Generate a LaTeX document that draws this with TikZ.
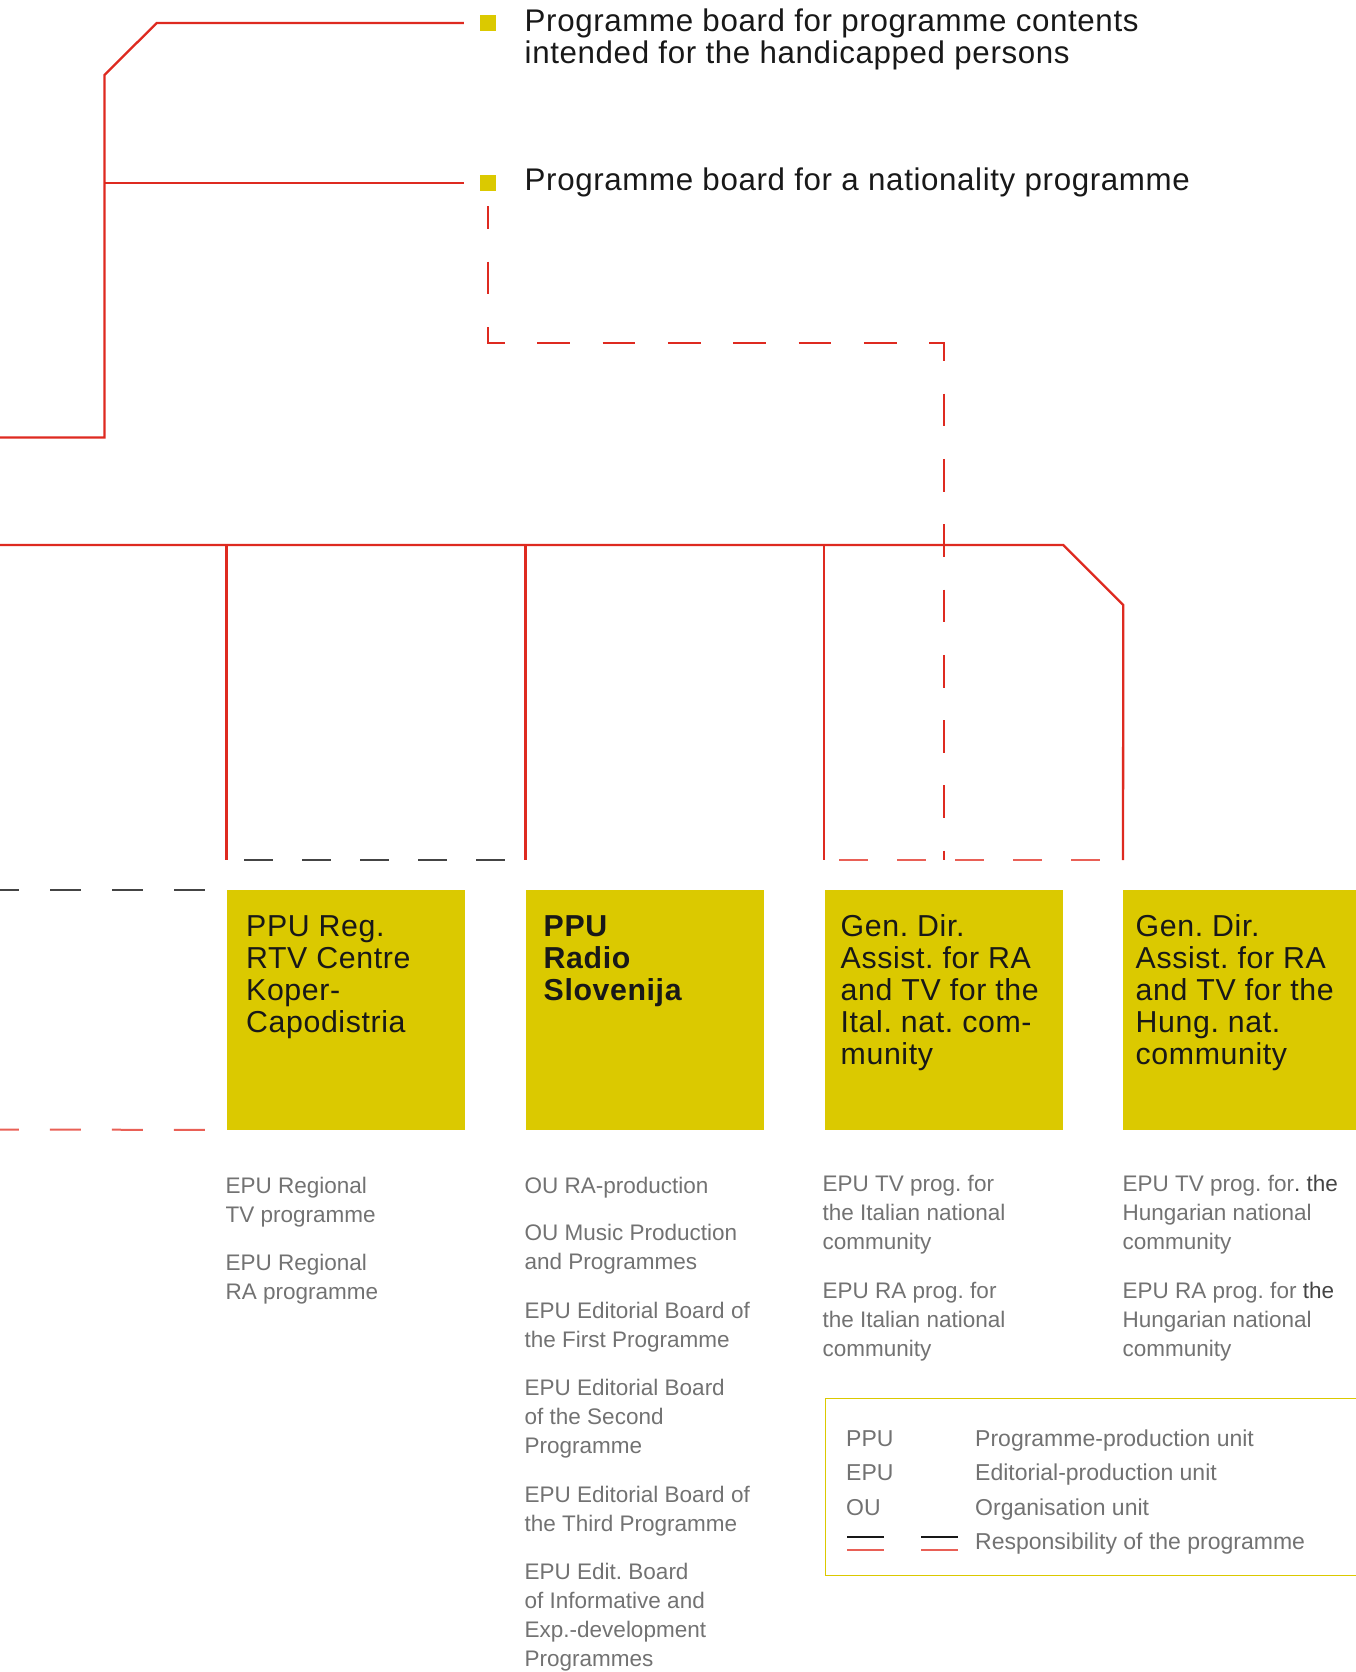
\documentclass[tikz,border=0pt]{standalone}
\usepackage{fontspec}
\setmainfont{Liberation Sans}
\newfontfamily\trackfont[LetterSpace=2.0]{Liberation Sans}
\frenchspacing

\definecolor{rtvred}{RGB}{222,42,32}
\definecolor{rtvsalmon}{RGB}{233,96,86}
\definecolor{rtvyellow}{RGB}{219,201,0}
\definecolor{rtvgrey}{RGB}{114,114,114}
\definecolor{rtvdark}{RGB}{68,68,68}
\definecolor{rtvink}{RGB}{24,24,24}

\tikzset{
  redline/.style={draw=rtvred, line width=2.3pt},
  respline/.style={draw=rtvred, line width=1.6pt, dash pattern=on 32.7pt off 32.6pt},
  reddash/.style={draw=rtvsalmon, line width=2pt, dash pattern=on 29pt off 29pt},
  greydash/.style={draw=rtvdark, line width=2pt, dash pattern=on 29pt off 29pt},
  unitbox/.style={fill=rtvyellow, anchor=north west, inner sep=0pt, minimum width=238.6pt, minimum height=239.5pt},
  unitname/.style={anchor=north west, inner sep=0pt, align=left, text=rtvink, font=\trackfont\fontsize{30.3}{32}\selectfont},
  unitlist/.style={anchor=north west, inner sep=0pt, align=left, text=rtvgrey, font=\fontsize{22.5}{29}\selectfont},
  boardmark/.style={fill=rtvyellow, inner sep=0pt, minimum width=16pt, minimum height=16pt},
  boardname/.style={anchor=north west, inner sep=0pt, align=left, text=rtvink, font=\trackfont\fontsize{31.3}{31.8}\selectfont},
  legendframe/.style={draw=rtvyellow, line width=1.4pt, anchor=north west, inner sep=0pt, minimum width=560pt, minimum height=177pt},
  legendtext/.style={anchor=base west, inner sep=0pt, text=rtvgrey, font=\fontsize{23}{23}\selectfont},
}

\begin{document}
\begin{tikzpicture}[x=1pt,y=-1pt]
    \useasboundingbox (0,0) rectangle (1355,1672);

    \node[boardmark] (markH) at (488,23) {};
    \node[boardmark] (markN) at (488,183) {};
    \node[boardname] (boardH) at (524.5,8.9) {Programme board for programme contents\\intended for the handicapped persons};
    \node[boardname] (boardN) at (524.5,167.2) {Programme board for a nationality programme};

    \node[unitbox] (koper) at (226.4,890) {};
    \node[unitbox] (radio) at (525.5,890) {};
    \node[unitbox] (ital) at (824.3,890) {};
    \node[unitbox] (hung) at (1123,890) {};

    \node[unitname] (kopername) at (246,915) {PPU Reg.\\RTV Centre\\Koper-\\Capodistria};
    \node[unitname, font=\trackfont\bfseries\fontsize{30.3}{32}\selectfont] (radioname) at (543.5,915) {PPU\\Radio\\Slovenija};
    \node[unitname] (italname) at (840.5,914) {Gen. Dir.\\Assist. for RA\\and TV for the\\Ital. nat. com-\\munity};
    \node[unitname] (hungname) at (1135.5,914) {Gen. Dir.\\Assist. for RA\\and TV for the\\Hung. nat.\\community};

    \node[unitlist] (koperlist) at (225.5,1176.6) {EPU Regional\\TV programme\\[19.5pt]EPU Regional\\RA programme};
    \node[unitlist] (radiolist) at (524.5,1176.6) {OU RA-production\\[18.4pt]OU Music Production\\and Programmes\\[19.5pt]EPU Editorial Board of\\the First Programme\\[19.5pt]EPU Editorial Board\\of the Second\\Programme\\[19.5pt]EPU Editorial Board of\\the Third Programme\\[19.5pt]EPU Edit. Board\\of Informative and\\Exp.-development\\Programmes};
    \node[unitlist] (itallist) at (822.5,1175.3) {EPU TV prog. for\\the Italian national\\community\\[19.5pt]EPU RA prog. for\\the Italian national\\community};
    \node[unitlist] (hunglist) at (1122.5,1175.3) {EPU TV prog. for{\color{rtvdark}. the}\\Hungarian national\\community\\[19.5pt]EPU RA prog. for {\color{rtvdark}the}\\Hungarian national\\community};

    \node[legendframe] (legend) at (824.8,1398) {};
    \node[legendtext] (ppu) at (846,1446) {PPU};
    \node[legendtext] (ppudesc) at (975,1446) {Programme-production unit};
    \node[legendtext] (epu) at (846,1480.7) {EPU};
    \node[legendtext] (epudesc) at (975,1480.7) {Editorial-production unit};
    \node[legendtext] (ou) at (846,1515.6) {OU};
    \node[legendtext] (oudesc) at (975,1515.6) {Organisation unit};
    \node[legendtext] (respdesc) at (975,1549.5) {Responsibility of the programme};
    \draw[rtvink, line width=1.8pt] (847,1536.6) -- (884,1536.6) (921,1536.6) -- (958,1536.6);
    \draw[rtvsalmon, line width=2pt] (847,1549.5) -- (884,1549.5) (921,1549.5) -- (958,1549.5);

    \coordinate (feedL) at (0,437.5);
    \coordinate (spine) at (104.5,75);
    \coordinate (busL) at (0,545);
    \coordinate (leftT) at (0,890);
    \coordinate (leftB) at (0,1129.5);

    \draw[respline, dash phase=9.6pt] ([yshift=-23pt]markN.center) -- ([yshift=-160pt]markN.center) -| ([yshift=30pt]ital.north);
    \draw[redline] (feedL) -| (spine) -- ++(52.2,-52) -- ([xshift=-16pt]markH.west);
    \draw[redline] (spine |- markN) -- ([xshift=-16pt]markN.west);
    \draw[redline] (busL) -- (ital.north east |- busL) -- ++(60,60) -- ([yshift=30pt]hung.north west);
    \draw[redline] (koper.north west |- busL) -- ([yshift=30pt]koper.north west);
    \draw[redline] (radio.north west |- busL) -- ([yshift=30pt]radio.north west);
    \draw[redline] (ital.north west |- busL) -- ([yshift=30pt]ital.north west);
    \draw[greydash, dash phase=40pt] ([yshift=30pt]koper.north west) -- ([yshift=30pt]radio.north west);
    \draw[reddash, dash phase=43pt] ([yshift=30pt]ital.north west) -- ([yshift=30pt]hung.north west);
    \draw[greydash, dash pattern=on 31pt off 31pt] ([xshift=-21.6pt]koper.north west) -- (leftT);
    \draw[reddash, dash pattern=on 31pt off 31pt] ([xshift=-21.6pt]koper.south west) -- (leftB);
\end{tikzpicture}
\end{document}
